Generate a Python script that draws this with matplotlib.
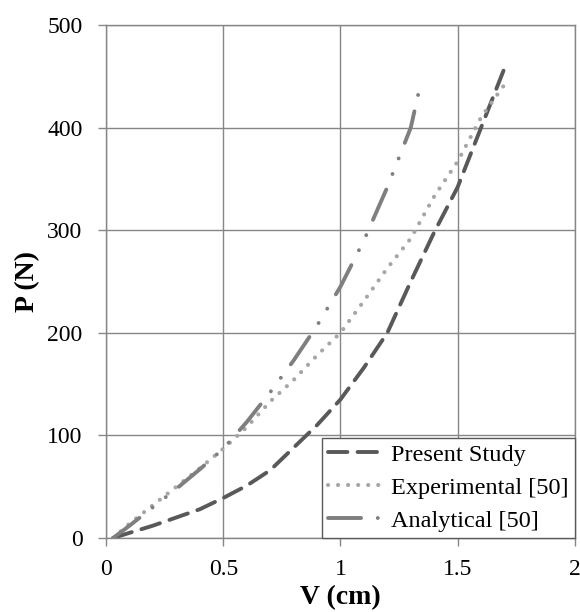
import matplotlib.pyplot as plt

plt.rcParams['font.family'] = ['Liberation Serif', 'DejaVu Serif']

# Present Study
v_present = [0.03, 0.1, 0.2, 0.3, 0.4, 0.5, 0.6, 0.7, 0.8, 0.9, 1.0, 1.1, 1.2, 1.3, 1.4, 1.5, 1.6, 1.7]
p_present = [0, 5, 12, 20, 28, 39, 51, 66, 88, 110, 135, 166, 200, 250, 298, 342, 400, 458]

# Experimental [50]
v_exp = [0.03, 0.1, 0.2, 0.3, 0.4, 0.5, 0.6, 0.7, 0.8, 0.9, 1.0, 1.1, 1.2, 1.3, 1.4, 1.5, 1.6, 1.7]
p_exp = [0, 14, 32, 50, 68, 87, 108, 133, 154, 178, 200, 231, 263, 292, 333, 367, 410, 442]

# Analytical [50]
v_ana = [0.03, 0.1, 0.2, 0.3, 0.4, 0.5, 0.6, 0.7, 0.8, 0.9, 1.0, 1.1, 1.2, 1.3, 1.345]
p_ana = [0, 12, 30, 48, 67, 87, 113, 142, 173, 207, 245, 290, 342, 400, 446]

x_ticks = [0, 0.5, 1, 1.5, 2]
x_labels = ['0', '0.5', '1', '1.5', '2']
y_ticks = [0, 100, 200, 300, 400, 500]

fig = plt.figure(figsize=(5.8, 6.12), dpi=100)
ax = fig.add_axes([0.183, 0.121, 0.808, 0.838])

ax.plot(v_present, p_present, color='#595959', lw=2.8, dashes=(5, 2.6),
        dash_capstyle='round', label='Present Study')
ax.plot(v_exp, p_exp, color='#a6a6a6', lw=3.0, dashes=(0.01, 2.4),
        dash_capstyle='round', label='Experimental [50]')
ax.plot(v_ana, p_ana, color='#7f7f7f', lw=2.8, dashes=(8.5, 4.3, 0.01, 4.3, 0.01, 4.3),
        dash_capstyle='round', label='Analytical [50]')

ax.set_xlim(0, 2)
ax.set_ylim(0, 500)
ax.set_xticks(x_ticks)
ax.set_xticklabels(x_labels)
ax.set_yticks(y_ticks)
ax.grid(True, color='#868686', lw=1.0)
ax.set_axisbelow(True)
for s in ax.spines.values():
    s.set_color('#868686')
    s.set_linewidth(1.0)
ax.tick_params(axis='both', labelsize=17, color='#868686', length=6, width=1.0)
ax.tick_params(axis='x', pad=9)
ax.tick_params(axis='y', pad=11)

ax.set_xlabel('V (cm)', fontsize=20, fontweight='bold', labelpad=4)
ax.set_ylabel('P (N)', fontsize=20, fontweight='bold', labelpad=5)

leg = ax.legend(loc='lower right', fontsize=17.5, fancybox=False, borderaxespad=0,
                handlelength=2.3, handletextpad=0.3, labelspacing=0.45, borderpad=0.25)
leg.get_frame().set_edgecolor('#595959')
leg.get_frame().set_linewidth(1.0)
leg.get_frame().set_alpha(1)

plt.savefig('out.png', dpi=100)
